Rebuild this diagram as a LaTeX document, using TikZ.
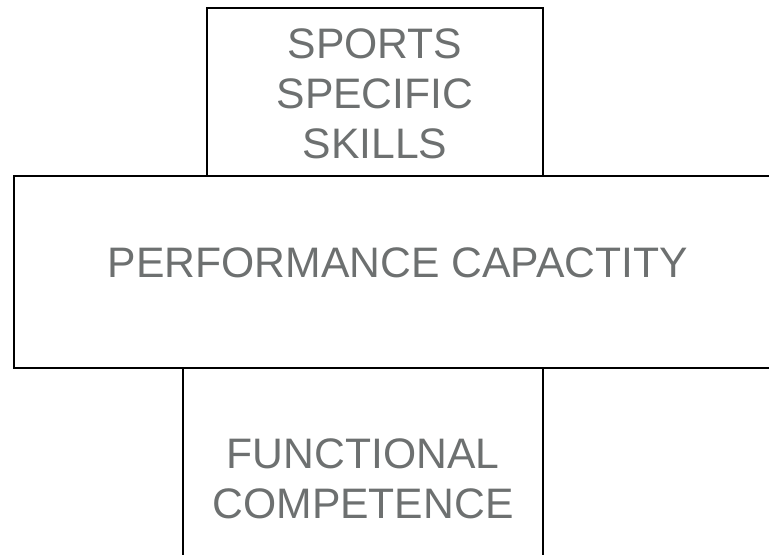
\documentclass[tikz,border=0pt]{standalone}
\usepackage{fontspec}
\setmainfont{Liberation Sans}
\definecolor{labelgray}{HTML}{6D7070}

\begin{document}
\begin{tikzpicture}
[x=0.75pt, y=0.75pt, every node/.style={inner sep=0pt},
 block/.style={rectangle, line width=1.3pt, draw=black, fill=none},
 blocktext/.style={text=labelgray, font=\fontsize{32}{37.5}\selectfont, align=center}]
\useasboundingbox (0,0) rectangle (769,-555);
\clip (0,0) rectangle (769,-555);
\node (skillsbox) [block, minimum width=336*0.75pt, minimum height=168*0.75pt] at (375.0, -92.0) {};
\node (capacitybox) [block, minimum width=768*0.75pt, minimum height=192*0.75pt] at (398.0, -272.0) {};
\node (competencebox) [block, minimum width=360*0.75pt, minimum height=224*0.75pt] at (363.0, -480.0) {};
\node (skills) [blocktext] at (375.0, -94.0) {SPORTS\\SPECIFIC\\SKILLS};
\node (capacity) [blocktext] at (398.0, -263.0) {PERFORMANCE CAPACTITY};
\node (competence) [blocktext] at (363.0, -479.0) {FUNCTIONAL\\COMPETENCE};
\end{tikzpicture}
\end{document}
